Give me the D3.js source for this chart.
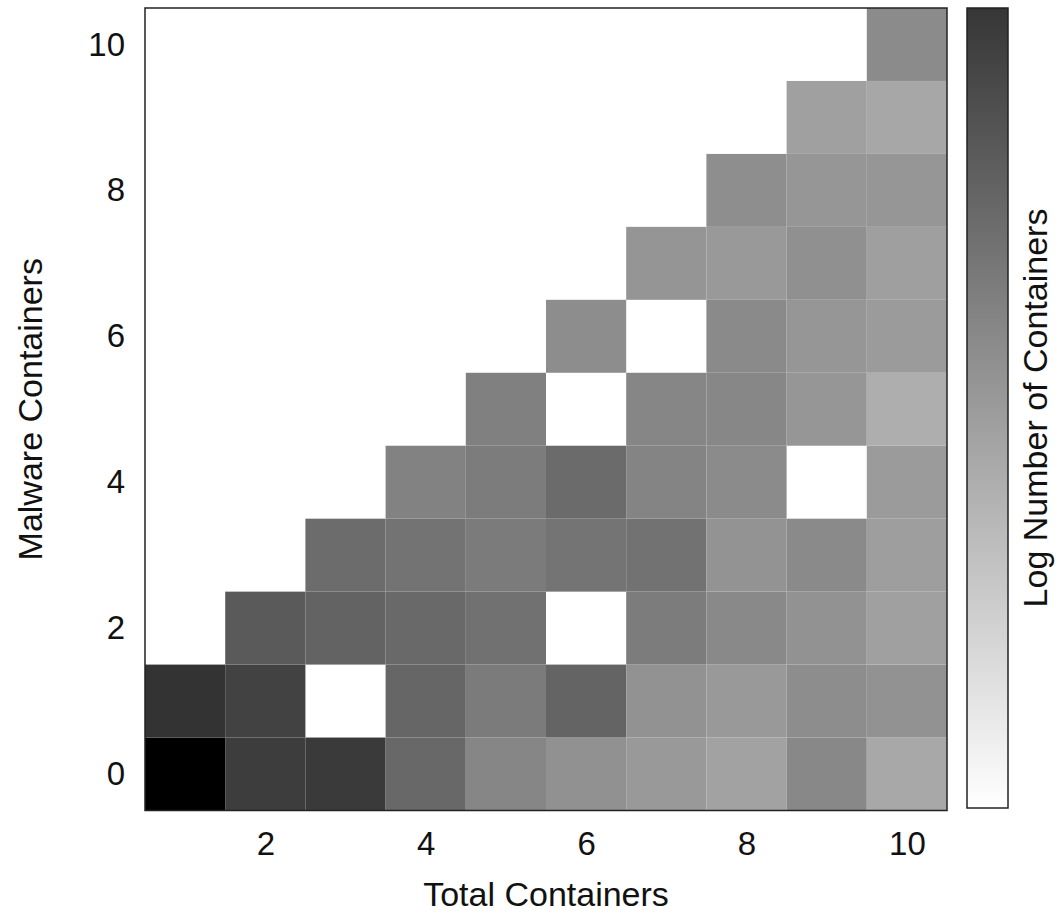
<!DOCTYPE html>
<html>
<head>
<meta charset="utf-8">
<script src="https://cdn.jsdelivr.net/npm/d3@7"></script>
<style>
  body { margin: 0; background: #fff; }
  text { font-family: "Liberation Sans", Arial, Helvetica, sans-serif; fill: #111; }
</style>
</head>
<body>
<div id="chart"></div>
<script>
// x = total containers, y = malware containers
const totalContainers = [1, 2, 3, 4, 5, 6, 7, 8, 9, 10];
const malwareContainers = [0, 1, 2, 3, 4, 5, 6, 7, 8, 9, 10];

// log number of containers, one row per malware count (null = no containers)
const logCounts = [
  [4.00, 3.04, 3.09, 2.37, 1.90, 1.73, 1.60, 1.46, 1.87, 1.36],
  [3.20, 2.96, null, 2.40, 2.07, 2.43, 1.71, 1.60, 1.79, 1.71],
  [null, 2.59, 2.45, 2.35, 2.23, null, 2.05, 1.85, 1.71, 1.49],
  [null, null, 2.31, 2.20, 2.07, 2.18, 2.21, 1.69, 1.84, 1.52],
  [null, null, null, 1.96, 2.05, 2.32, 1.93, 1.82, null, 1.57],
  [null, null, null, null, 1.99, null, 1.90, 1.88, 1.65, 1.27],
  [null, null, null, null, null, 1.79, null, 1.84, 1.65, 1.57],
  [null, null, null, null, null, null, 1.66, 1.60, 1.74, 1.51],
  [null, null, null, null, null, null, null, 1.77, 1.65, 1.65],
  [null, null, null, null, null, null, null, null, 1.49, 1.38],
  [null, null, null, null, null, null, null, null, null, 1.82]
];

const xTicks = [2, 4, 6, 8, 10];
const yTicks = [0, 2, 4, 6, 8, 10];

const width = 1057, height = 913;
const plotLeft = 145, plotRight = 947, plotTop = 8, plotBottom = 810.5;

const svg = d3.select("#chart").append("svg")
  .attr("width", width)
  .attr("height", height);

const x = d3.scaleLinear().domain([0.5, 10.5]).range([plotLeft, plotRight]);
const y = d3.scaleLinear().domain([-0.5, 10.5]).range([plotBottom, plotTop]);

const color = d3.scaleLinear().domain([0, 4]).range(["#ffffff", "#000000"]);

// flatten to cells
const cells = [];
malwareContainers.forEach((m, i) => {
  totalContainers.forEach((t, j) => {
    const v = logCounts[i][j];
    if (v != null) cells.push({ t, m, v });
  });
});

svg.append("g")
  .selectAll("rect")
  .data(cells)
  .join("rect")
  .attr("x", d => x(d.t - 0.5))
  .attr("y", d => y(d.m + 0.5))
  .attr("width", d => x(d.t + 0.5) - x(d.t - 0.5))
  .attr("height", d => y(d.m - 0.5) - y(d.m + 0.5))
  .attr("fill", d => color(d.v));

// frame
svg.append("rect")
  .attr("x", plotLeft).attr("y", plotTop)
  .attr("width", plotRight - plotLeft).attr("height", plotBottom - plotTop)
  .attr("fill", "none")
  .attr("stroke", "#222")
  .attr("stroke-width", 1.5);

// axes (labels only)
const xAxis = svg.append("g")
  .attr("transform", `translate(0,${plotBottom})`)
  .call(d3.axisBottom(x).tickValues(xTicks).tickSize(0).tickPadding(21));
xAxis.select(".domain").remove();
xAxis.selectAll("text").style("font-size", "33px").style("font-family", null);

const yAxis = svg.append("g")
  .attr("transform", `translate(${plotLeft},0)`)
  .call(d3.axisLeft(y).tickValues(yTicks).tickSize(0).tickPadding(20));
yAxis.select(".domain").remove();
yAxis.selectAll("text").style("font-size", "33px").style("font-family", null);

svg.append("text")
  .attr("x", (plotLeft + plotRight) / 2)
  .attr("y", 906)
  .attr("text-anchor", "middle")
  .style("font-size", "34px")
  .text("Total Containers");

svg.append("text")
  .attr("transform", `translate(42,${(plotTop + plotBottom) / 2}) rotate(-90)`)
  .attr("text-anchor", "middle")
  .style("font-size", "34px")
  .text("Malware Containers");

// colour bar
const barX = 967, barW = 41, barTop = 8, barBottom = 808;
const barMax = 3.15;
const barScale = d3.scaleLinear().domain([0, barMax]).range([barBottom, barTop]);

const grad = svg.append("defs").append("linearGradient")
  .attr("id", "bar")
  .attr("x1", 0).attr("y1", 1).attr("x2", 0).attr("y2", 0);
grad.selectAll("stop")
  .data(d3.range(0, 1.0001, 0.1))
  .join("stop")
  .attr("offset", d => d)
  .attr("stop-color", d => color(d * barMax));

svg.append("rect")
  .attr("x", barX).attr("y", barScale(barMax))
  .attr("width", barW).attr("height", barScale(0) - barScale(barMax))
  .attr("fill", "url(#bar)")
  .attr("stroke", "#222")
  .attr("stroke-width", 1.5);

svg.append("text")
  .attr("transform", `translate(1047,${(barTop + barBottom) / 2}) rotate(-90)`)
  .attr("text-anchor", "middle")
  .style("font-size", "34px")
  .text("Log Number of Containers");
</script>
</body>
</html>
